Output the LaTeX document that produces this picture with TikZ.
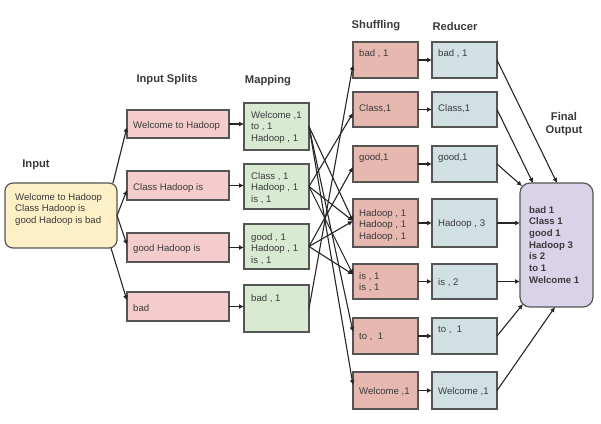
\documentclass[tikz,border=0pt]{standalone}
\usepackage{fontspec}
\setmainfont{Liberation Sans}
\usetikzlibrary{arrows.meta}
\definecolor{bordergray}{HTML}{555555}
\definecolor{textgray}{HTML}{3A3A3A}
\definecolor{inyel}{HTML}{FDEFC6}
\definecolor{splitc}{HTML}{F4CCCC}
\definecolor{mapc}{HTML}{D9EAD3}
\definecolor{shufc}{HTML}{E6B8AF}
\definecolor{redc}{HTML}{D0E0E3}
\definecolor{finc}{HTML}{D9D2E9}
\begin{document}
\begin{tikzpicture}[x=1pt,y=-1pt,
  box/.style={draw=bordergray, line width=1.2pt, inner sep=0pt, outer sep=0pt},
  splitbox/.style={box, fill=splitc, minimum width=102pt},
  mapbox/.style={box, fill=mapc, minimum width=65pt},
  shufbox/.style={box, fill=shufc, minimum width=65pt},
  redbox/.style={box, fill=redc, minimum width=65pt},
  txt/.style={font=\fontsize{9.6}{11.6}\selectfont, text=textgray, align=left, inner sep=0pt, anchor=north west},
  fintxt/.style={txt, font=\bfseries\fontsize{9.6}{11.7}\selectfont},
  ttl/.style={font=\bfseries\fontsize{11.2}{13}\selectfont, text=textgray, align=center, inner sep=0pt},
  arr/.style={-{Latex[length=5pt,width=5pt]}, line width=1.1pt, black!85}]
\useasboundingbox (0,0) rectangle (601,423);

% titles
\node[ttl] (tIn) at (36,165) {Input};
\node[ttl] (tSplit) at (167,80) {Input Splits};
\node[ttl] (tMap) at (268,81) {Mapping};
\node[ttl] (tShuf) at (376,26) {Shuffling};
\node[ttl] (tRed) at (455,26) {Reducer};
\node[ttl] (tFin) at (564,124.5) {Final\\Output};

% input
\node[box, fill=inyel, rounded corners=8pt, minimum width=112pt, minimum height=65pt] (in) at (61,215.5) {};
\node[txt] (inT) at (15,193) {Welcome to Hadoop\\Class Hadoop is\\good Hadoop is bad};

% splits
\node[splitbox, minimum height=28pt] (s1) at (178,124) {};
\node[splitbox, minimum height=29pt] (s2) at (178,185.5) {};
\node[splitbox, minimum height=29pt] (s3) at (178,247.5) {};
\node[splitbox, minimum height=29pt] (s4) at (178,306.5) {};
\node[txt] (s1T) at (133,121) {Welcome to Hadoop};
\node[txt] (s2T) at (133,183) {Class Hadoop is};
\node[txt] (s3T) at (133,244) {good Hadoop is};
\node[txt] (s4T) at (133,304) {bad};

% mapping
\node[mapbox, minimum height=47pt] (m1) at (276.5,126.5) {};
\node[mapbox, minimum height=45pt] (m2) at (276.5,186.5) {};
\node[mapbox, minimum height=45pt] (m3) at (276.5,246.5) {};
\node[mapbox, minimum height=47pt] (m4) at (276.5,308.5) {};
\node[txt] (m1T) at (251,111) {Welcome ,1\\to , 1\\Hadoop , 1};
\node[txt] (m2T) at (251,172) {Class , 1\\Hadoop , 1\\is , 1};
\node[txt] (m3T) at (251,233) {good , 1\\Hadoop , 1\\is , 1};
\node[txt] (m4T) at (251,294) {bad , 1};

% shuffling
\node[shufbox, minimum height=36pt] (sb) at (385.5,60) {};
\node[shufbox, minimum height=35pt] (sc) at (385.5,109.5) {};
\node[shufbox, minimum height=36pt] (sg) at (385.5,164) {};
\node[shufbox, minimum height=48pt] (sh) at (385.5,223) {};
\node[shufbox, minimum height=35pt] (si) at (385.5,281.5) {};
\node[shufbox, minimum height=36pt] (st) at (385.5,336) {};
\node[shufbox, minimum height=37pt] (sw) at (385.5,390.5) {};
\node[txt] (sbT) at (359,49) {bad , 1};
\node[txt] (scT) at (359,104) {Class,1};
\node[txt] (sgT) at (359,153) {good,1};
\node[txt] (shT) at (359,209) {Hadoop , 1\\Hadoop , 1\\Hadoop , 1};
\node[txt] (siT) at (359,272) {is , 1\\is , 1};
\node[txt] (stT) at (359,333) {to ,\ \ 1};
\node[txt] (swT) at (359,387) {Welcome ,1};

% reducer
\node[redbox, minimum height=36pt] (rb) at (464.5,60) {};
\node[redbox, minimum height=35pt] (rc) at (464.5,109.5) {};
\node[redbox, minimum height=36pt] (rg) at (464.5,164) {};
\node[redbox, minimum height=48pt] (rh) at (464.5,223) {};
\node[redbox, minimum height=35pt] (ri) at (464.5,281.5) {};
\node[redbox, minimum height=36pt] (rt) at (464.5,336) {};
\node[redbox, minimum height=37pt] (rw) at (464.5,390.5) {};
\node[txt] (rbT) at (438,49) {bad , 1};
\node[txt] (rcT) at (438,104) {Class,1};
\node[txt] (rgT) at (438,153) {good,1};
\node[txt] (rhT) at (438,219) {Hadoop , 3};
\node[txt] (riT) at (438,278) {is , 2};
\node[txt] (rtT) at (438,326) {to ,\ \ 1};
\node[txt] (rwT) at (438,387) {Welcome ,1};

% final
\node[box, fill=finc, rounded corners=10pt, minimum width=73pt, minimum height=124pt] (f) at (556.5,245) {};
\node[fintxt] (fT) at (529,206) {bad 1\\Class 1\\good 1\\Hadoop 3\\is 2\\to 1\\Welcome 1};

% input -> splits
\draw[arr] ([xshift=-4pt]in.north east) -- ([yshift=-3pt]s1.west);
\draw[arr] (in.east) -- ([yshift=-4.5pt]s2.west);
\draw[arr] (in.east) -- ([yshift=2.5pt]s3.west);
\draw[arr] ([xshift=-6pt]in.south east) -- ([yshift=6pt]s4.west);

% splits -> mapping
\draw[arr] (s1.east) -- (s1.east -| m1.west);
\draw[arr] (s2.east) -- (s2.east -| m2.west);
\draw[arr] (s3.east) -- (s3.east -| m3.west);
\draw[arr] (s4.east) -- (s4.east -| m4.west);

% mapping -> shuffling
\coordinate (eB) at ([yshift=-5pt]sb.west);
\coordinate (eC) at ([yshift=-3.5pt]sc.west);
\coordinate (eG) at ([yshift=-3pt]sg.west);
\coordinate (eH) at ([yshift=2pt]sh.west);
\coordinate (eI) at ([yshift=7pt]si.west);
\coordinate (eT) at ([yshift=4pt]st.west);
\coordinate (eW) at ([yshift=5.5pt]sw.west);
\draw[arr] (m1.east) -- (eH);
\draw[arr] (m1.east) -- (eT);
\draw[arr] (m1.east) -- (eW);
\draw[arr] (m2.east) -- (eC);
\draw[arr] (m2.east) -- (eH);
\draw[arr] (m2.east) -- (eI);
\draw[arr] (m3.east) -- (eG);
\draw[arr] (m3.east) -- (eH);
\draw[arr] (m3.east) -- (eI);
\draw[arr] (m4.east) -- (eB);

% shuffling -> reducer
\draw[arr] (sb.east) -- (rb.west);
\draw[arr] (sc.east) -- (rc.west);
\draw[arr] (sg.east) -- (rg.west);
\draw[arr] (sh.east) -- (rh.west);
\draw[arr] (si.east) -- (ri.west);
\draw[arr] (st.east) -- (rt.west);
\draw[arr] (sw.east) -- (rw.west);

% reducer -> final
\draw[arr] (rb.east) -- ([xshift=37pt]f.north west);
\draw[arr] (rc.east) -- ([xshift=13pt]f.north west);
\draw[arr] (rg.east) -- ([xshift=2pt,yshift=-3pt]f.north west);
\draw[arr] (rh.east) -- (rh.east -| f.west);
\draw[arr] (ri.east) -- (ri.east -| f.west);
\draw[arr] (rt.east) -- ([xshift=3pt,yshift=3pt]f.south west);
\draw[arr] (rw.east) -- ([xshift=35pt]f.south west);
\end{tikzpicture}
\end{document}
